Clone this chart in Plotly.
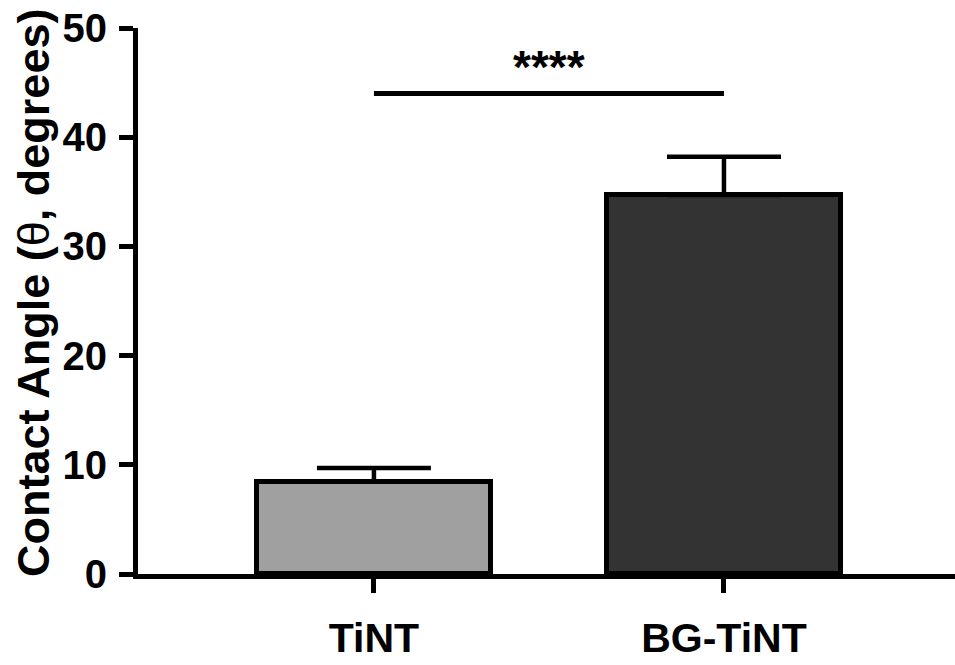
import plotly.graph_objects as go

categories = ["TiNT", "BG-TiNT"]
means = [8.45, 34.7]
errors_up = [1.25, 3.5]
bar_colors = ["#a0a0a0", "#333333"]
y_ticks = [0, 10, 20, 30, 40, 50]
sig_y = 44.0
sig_label = "****"
y_title = "Contact Angle (<span style='font-weight:normal'>θ</span>, degrees)"

FONT = "Liberation Sans, Arial, sans-serif"

fig = go.Figure()
fig.add_trace(go.Bar(
    x=[0, 1],
    y=means,
    width=0.67,
    marker=dict(color=bar_colors, line=dict(color="black", width=5)),
    error_y=dict(type="data", symmetric=False, array=errors_up,
                 arrayminus=[0, 0], color="black", thickness=4.5, width=57),
    showlegend=False,
    hoverinfo="skip",
))

# significance bracket
fig.add_shape(type="line", x0=0, x1=1, y0=sig_y, y1=sig_y,
              xref="x", yref="y", line=dict(color="black", width=5))
fig.add_annotation(x=0.5, y=46.4, xref="x", yref="y", text=sig_label,
                   showarrow=False, yanchor="middle",
                   font=dict(family=FONT, size=46, color="black", weight="bold"))

# y axis title as annotation for precise placement
fig.add_annotation(x=-0.1279, y=0.5137, xref="paper", yref="paper",
                   text=y_title, textangle=-90, showarrow=False,
                   xanchor="center", yanchor="middle",
                   font=dict(family=FONT, size=45, color="black", weight="bold"))

fig.update_layout(
    width=955, height=665,
    margin=dict(l=138, r=0, t=28, b=91, autoexpand=False),
    plot_bgcolor="white", paper_bgcolor="white",
    bargap=0,
)
fig.update_xaxes(
    range=[-0.674, 1.66],
    tickvals=[0, 1], ticktext=categories,
    showline=True, linecolor="black", linewidth=5,
    ticks="outside", ticklen=14, tickwidth=4.5, tickcolor="black",
    ticklabelstandoff=10, ticklabeloverflow="allow",
    tickfont=dict(family=FONT, size=41, color="black", weight="bold"),
    showgrid=False, zeroline=False, automargin=False,
)
fig.update_yaxes(
    range=[0, 50],
    tickvals=y_ticks,
    showline=True, linecolor="black", linewidth=5,
    ticks="outside", ticklen=14, tickwidth=4.5, tickcolor="black",
    ticklabelstandoff=4, ticklabeloverflow="allow",
    tickfont=dict(family=FONT, size=40, color="black", weight="bold"),
    showgrid=False, zeroline=False, automargin=False,
)

# remove the browser's default 8px body margin so the figure fills the window
fig.write_html("out.html",
               config={"displayModeBar": False},
               post_script="document.body.style.margin='0';document.body.style.overflow='hidden';")
